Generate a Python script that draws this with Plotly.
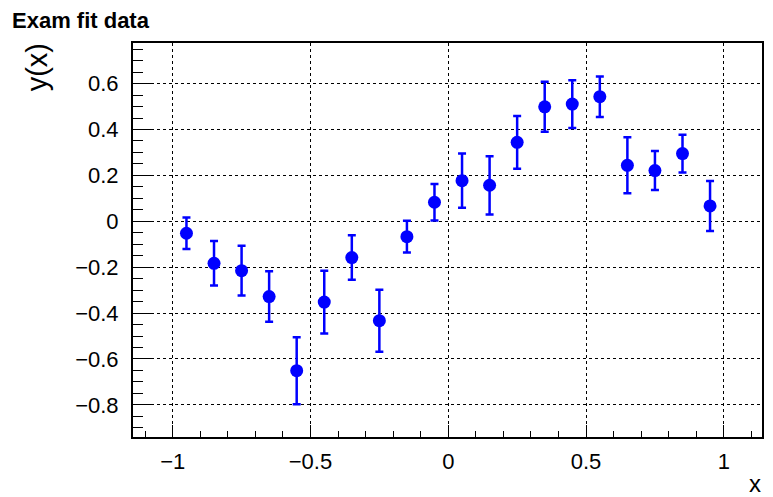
import plotly.graph_objects as go

x_vals = [-0.95, -0.85, -0.75, -0.65, -0.55, -0.45, -0.35, -0.25, -0.15, -0.05,
          0.05, 0.15, 0.25, 0.35, 0.45, 0.55, 0.65, 0.75, 0.85, 0.95]
y_vals = [-0.052, -0.183, -0.215, -0.328, -0.651, -0.352, -0.158, -0.433, -0.067, 0.083,
          0.177, 0.157, 0.344, 0.499, 0.511, 0.543, 0.244, 0.221, 0.295, 0.067]
y_errs = [0.069, 0.097, 0.108, 0.110, 0.146, 0.137, 0.097, 0.135, 0.069, 0.080,
          0.118, 0.127, 0.115, 0.109, 0.104, 0.088, 0.122, 0.085, 0.082, 0.109]

title_text = "Exam fit data"
x_title = "x"
y_title = "y(x)"

FONT = "Liberation Sans, Arial, Helvetica, sans-serif"

# page has an 8px body margin and content is visible up to ~765px;
# plot area in page pixels: x 133..764, y 43..437
L_PAGE, R_PAGE, T_PAGE, B_PAGE = 133, 764, 43, 437
PW, PH = R_PAGE - L_PAGE, B_PAGE - T_PAGE

def px(xp):
    return (xp - L_PAGE) / PW

def py(yp):
    return (B_PAGE - yp) / PH

fig = go.Figure()
fig.add_trace(go.Scatter(
    x=x_vals, y=y_vals, mode="markers",
    marker=dict(symbol="circle", size=13, color="#0000ff", line=dict(width=0)),
    error_y=dict(type="data", array=y_errs, visible=True, thickness=2.5, width=4, color="#0000ff"),
    showlegend=False,
))

axis_common = dict(
    showline=True, linecolor="black", linewidth=2, mirror=True,
    showgrid=True, gridcolor="black", gridwidth=1, griddash="dot",
    zeroline=False, ticks="inside", tickcolor="black", tickwidth=1,
    tickfont=dict(family=FONT, size=22, color="black"),
)

fig.update_layout(
    width=757, height=489,
    margin=dict(l=L_PAGE - 8, r=757 + 8 - R_PAGE, t=T_PAGE - 8, b=489 + 8 - B_PAGE),
    paper_bgcolor="white", plot_bgcolor="white",
    xaxis=dict(range=[-1.144, 1.1385], tick0=0, dtick=0.5, ticklen=12,
               minor=dict(dtick=0.1, tick0=0, ticklen=6, ticks="inside", tickcolor="black", showgrid=False),
               ticklabelstandoff=4,
               **axis_common),
    yaxis=dict(range=[-0.94, 0.777], tick0=0, dtick=0.2, ticklen=20,
               minor=dict(dtick=0.05, tick0=0, ticklen=10, ticks="inside", tickcolor="black", showgrid=False),
               ticklabelstandoff=8,
               **axis_common),
    annotations=[
        dict(text="<b>" + title_text + "</b>", xref="paper", yref="paper",
             x=px(10), y=py(20), xanchor="left", yanchor="middle",
             showarrow=False, font=dict(family=FONT, size=22, color="black")),
        dict(text=x_title, xref="paper", yref="paper",
             x=px(765), y=py(483), xanchor="right", yanchor="middle",
             showarrow=False, font=dict(family=FONT, size=24, color="black")),
        dict(text=y_title, xref="paper", yref="paper", textangle=-90,
             x=px(37), y=py(41), xanchor="center", yanchor="top",
             showarrow=False, font=dict(family=FONT, size=29, color="black")),
    ],
)

fig.write_html("out.html")
